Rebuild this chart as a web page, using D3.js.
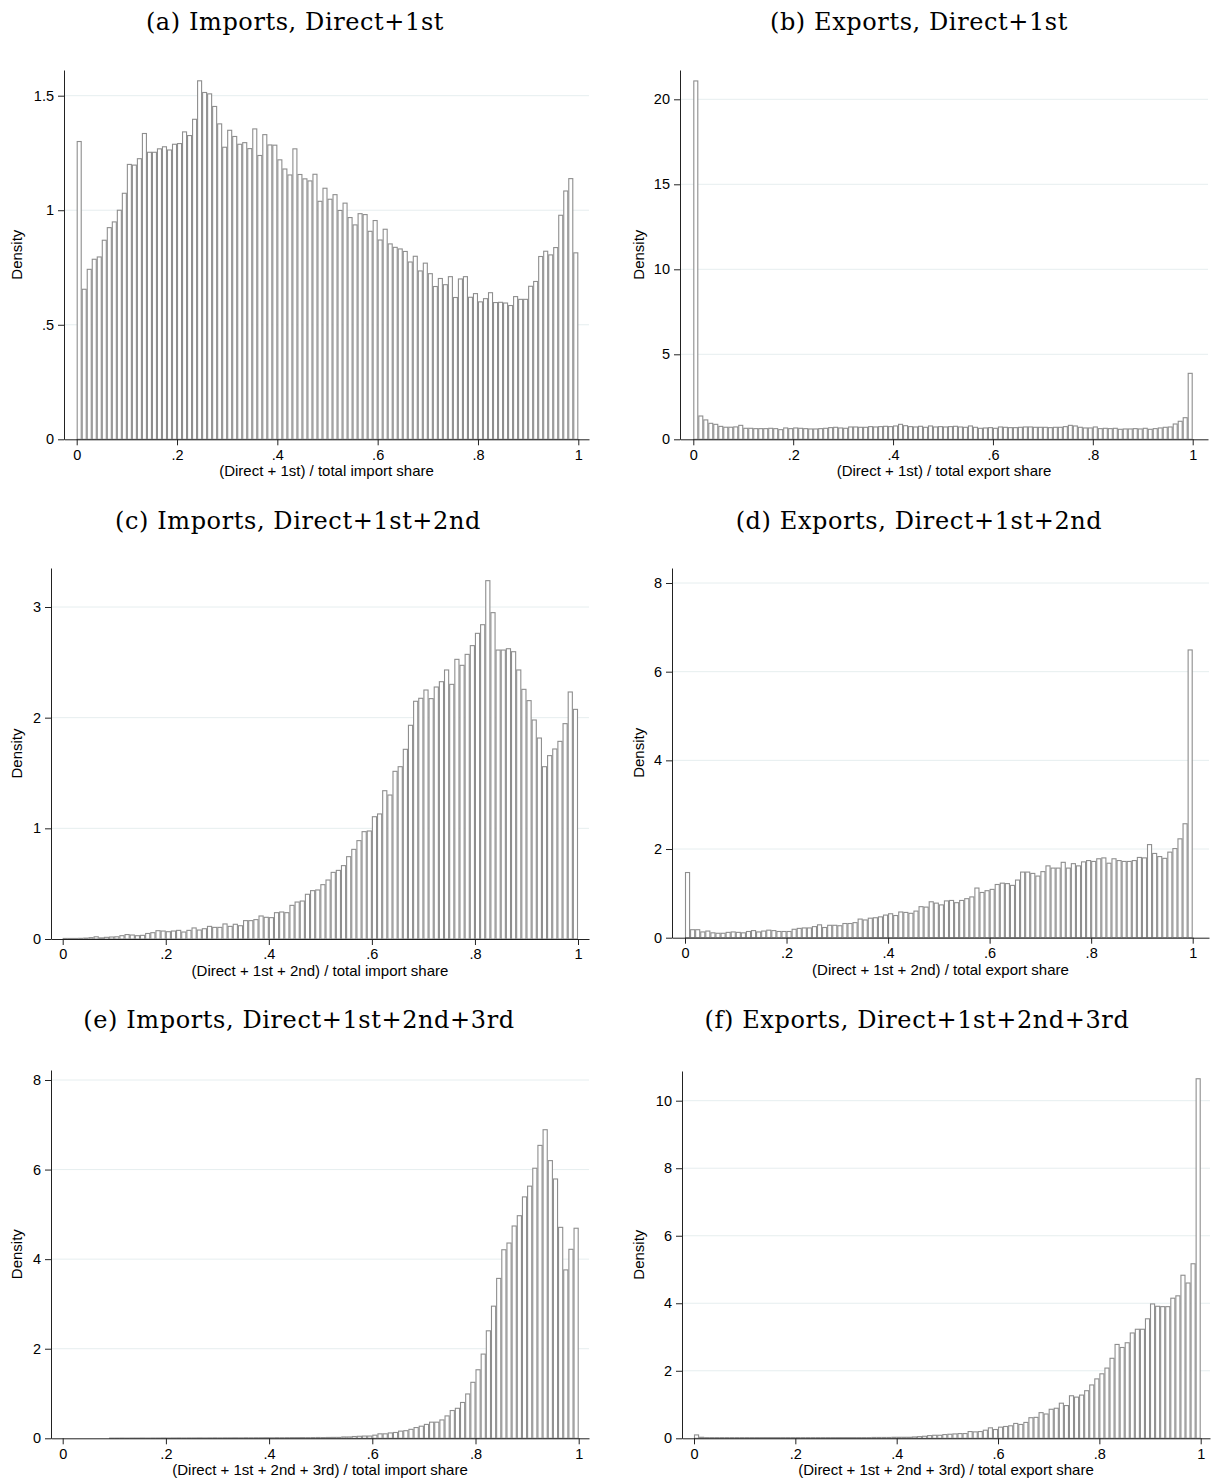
<!DOCTYPE html>
<html>
<head>
<meta charset="utf-8">
<script src="https://cdn.jsdelivr.net/npm/d3@7"></script>
<style>
  body { margin: 0; background: #fff; }
  svg text { fill: #000; }
  .tick text { font-family: "Liberation Sans", Arial, sans-serif; font-size: 14.5px; }
  .title { font-family: "DejaVu Serif", "Liberation Serif", serif; font-size: 24px; letter-spacing: 0.6px; }
  .lab { font-family: "Liberation Sans", Arial, sans-serif; font-size: 15px; }
</style>
</head>
<body>
<svg id="chart" width="1212" height="1483"></svg>
<script>
// bin densities, 100 bins of width .01 on [0,1]
const impD1 = [1.30,0.655,0.742,0.786,0.796,0.869,0.924,0.949,1.0,1.074,
  1.20,1.197,1.225,1.335,1.253,1.253,1.268,1.277,1.263,1.288,
  1.291,1.342,1.326,1.397,1.565,1.514,1.508,1.453,1.377,1.275,
  1.349,1.322,1.288,1.295,1.269,1.355,1.239,1.330,1.285,1.284,
  1.22,1.18,1.154,1.268,1.156,1.137,1.128,1.157,1.039,1.096,
  1.048,1.068,0.999,1.031,0.968,0.936,0.985,0.981,0.908,0.955,
  0.870,0.917,0.853,0.838,0.831,0.820,0.774,0.799,0.735,0.769,
  0.723,0.667,0.702,0.675,0.710,0.619,0.700,0.710,0.620,0.636,
  0.600,0.614,0.640,0.597,0.598,0.595,0.584,0.623,0.611,0.611,
  0.668,0.689,0.798,0.821,0.805,0.837,0.978,1.084,1.138,0.814];

const expD1 = [21.08,1.37,1.14,0.94,0.88,0.76,0.71,0.71,0.73,0.82,
  0.647,0.647,0.627,0.627,0.627,0.647,0.627,0.569,0.667,0.627,
  0.667,0.647,0.627,0.608,0.608,0.627,0.647,0.686,0.706,0.667,
  0.647,0.725,0.725,0.706,0.706,0.745,0.725,0.745,0.765,0.745,
  0.784,0.88,0.80,0.745,0.725,0.765,0.706,0.784,0.725,0.745,
  0.725,0.745,0.765,0.725,0.706,0.784,0.706,0.647,0.667,0.686,
  0.647,0.725,0.706,0.686,0.686,0.706,0.725,0.725,0.706,0.706,
  0.706,0.686,0.706,0.706,0.745,0.82,0.784,0.706,0.667,0.667,
  0.725,0.627,0.647,0.627,0.647,0.588,0.608,0.608,0.627,0.608,
  0.647,0.588,0.627,0.667,0.706,0.725,0.90,1.06,1.27,3.88];

const impD2 = [0.005,0.005,0.005,0.006,0.008,0.012,0.02,0.01,0.015,0.018,
  0.02,0.03,0.04,0.036,0.03,0.033,0.05,0.057,0.075,0.072,
  0.066,0.072,0.078,0.063,0.078,0.10,0.081,0.093,0.114,0.105,
  0.105,0.136,0.114,0.133,0.12,0.166,0.166,0.175,0.208,0.196,
  0.193,0.238,0.244,0.238,0.304,0.334,0.343,0.404,0.437,0.443,
  0.491,0.533,0.602,0.620,0.663,0.744,0.810,0.889,0.970,0.976,
  1.105,1.130,1.340,1.301,1.515,1.557,1.714,1.931,2.148,2.175,
  2.25,2.172,2.277,2.325,2.431,2.301,2.527,2.473,2.572,2.651,
  2.762,2.840,3.238,2.949,2.611,2.611,2.623,2.596,2.431,2.256,
  2.154,1.979,1.816,1.557,1.657,1.717,1.786,1.946,2.232,2.075];

const expD2 = [1.47,0.18,0.18,0.13,0.15,0.11,0.10,0.10,0.12,0.13,
  0.12,0.11,0.14,0.16,0.13,0.15,0.17,0.16,0.14,0.14,
  0.14,0.19,0.21,0.22,0.22,0.25,0.29,0.23,0.28,0.28,
  0.27,0.32,0.32,0.34,0.42,0.40,0.44,0.45,0.47,0.51,
  0.54,0.50,0.58,0.57,0.55,0.60,0.70,0.69,0.81,0.78,
  0.74,0.83,0.84,0.79,0.84,0.88,0.92,1.12,1.02,1.06,
  1.09,1.20,1.23,1.22,1.18,1.30,1.48,1.48,1.45,1.39,
  1.49,1.62,1.57,1.57,1.70,1.57,1.67,1.62,1.71,1.74,
  1.72,1.78,1.80,1.68,1.78,1.74,1.72,1.72,1.74,1.81,
  1.80,2.10,1.90,1.83,1.79,1.93,2.01,2.23,2.57,6.49];

const impD3 = [0,0,0,0,0,0,0,0,0,0.004,
  0.004,0.005,0.004,0.005,0.005,0.006,0.005,0.006,0.006,0.007,
  0.006,0.007,0.008,0.007,0.008,0.008,0.009,0.008,0.009,0.01,
  0.009,0.01,0.01,0.011,0.01,0.012,0.011,0.012,0.012,0.013,
  0.012,0.014,0.013,0.014,0.015,0.015,0.016,0.015,0.017,0.018,
  0.017,0.019,0.02,0.02,0.03,0.03,0.04,0.045,0.05,0.05,
  0.07,0.10,0.10,0.12,0.13,0.16,0.17,0.20,0.24,0.27,
  0.31,0.36,0.36,0.41,0.50,0.62,0.67,0.80,0.99,1.25,
  1.53,1.88,2.40,2.95,3.57,4.21,4.36,4.74,4.97,5.39,
  5.63,6.03,6.54,6.89,6.20,5.79,4.71,3.76,4.22,4.69];

const expD3 = [0.10,0.03,0.02,0.02,0.02,0.02,0.02,0.02,0.02,0.02,
  0.02,0.02,0.02,0.02,0.02,0.02,0.02,0.02,0.02,0.02,
  0.02,0.02,0.02,0.02,0.02,0.02,0.02,0.02,0.02,0.02,
  0.02,0.02,0.02,0.02,0.02,0.025,0.025,0.025,0.025,0.03,
  0.03,0.03,0.03,0.04,0.05,0.06,0.08,0.09,0.09,0.11,
  0.12,0.13,0.14,0.14,0.20,0.19,0.20,0.24,0.31,0.26,
  0.33,0.35,0.37,0.44,0.41,0.47,0.61,0.62,0.76,0.72,
  0.86,0.89,1.04,0.97,1.26,1.22,1.28,1.41,1.58,1.76,
  1.91,2.08,2.37,2.78,2.69,2.83,3.12,3.23,3.23,3.54,
  3.98,3.91,3.90,3.90,4.15,4.22,4.83,4.60,5.17,10.65];

const xTicks = [0, .2, .4, .6, .8, 1];
const yTicksA = [0, .5, 1, 1.5];
const yTicksB = [0, 5, 10, 15, 20];
const yTicksC = [0, 1, 2, 3];
const yTicksD = [0, 2, 4, 6, 8];
const yTicksE = [0, 2, 4, 6, 8];
const yTicksF = [0, 2, 4, 6, 8, 10];

const titles = ["(a) Imports, Direct+1st", "(b) Exports, Direct+1st",
  "(c) Imports, Direct+1st+2nd", "(d) Exports, Direct+1st+2nd",
  "(e) Imports, Direct+1st+2nd+3rd", "(f) Exports, Direct+1st+2nd+3rd"];
const xLabels = ["(Direct + 1st) / total import share", "(Direct + 1st) / total export share",
  "(Direct + 1st + 2nd) / total import share", "(Direct + 1st + 2nd) / total export share",
  "(Direct + 1st + 2nd + 3rd) / total import share", "(Direct + 1st + 2nd + 3rd) / total export share"];

// layout, pixels
const panels = [
  {data: impD1, yt: yTicksA, ax: 64,  x0: 76.7, x1: 578.3,  right: 589,  base: 439.3, tpx: 95.7,   top: 70,   titleX: 295, titleY: 30,   densX: 22},
  {data: expD1, yt: yTicksB, ax: 680, x0: 693.3, x1: 1192.7, right: 1208, base: 439.3, tpx: 99.3,  top: 70,   titleX: 919, titleY: 30,   densX: 644},
  {data: impD2, yt: yTicksC, ax: 51,  x0: 62.7, x1: 578,    right: 589,  base: 939,   tpx: 607,    top: 568,  titleX: 298, titleY: 529,  densX: 22},
  {data: expD2, yt: yTicksD, ax: 672, x0: 685,  x1: 1192.7, right: 1209, base: 937.7, tpx: 583,    top: 568,  titleX: 919, titleY: 529,  densX: 644},
  {data: impD3, yt: yTicksE, ax: 51,  x0: 62.7, x1: 578.7,  right: 589,  base: 1438.3, tpx: 1080,  top: 1070, titleX: 299, titleY: 1028, densX: 22},
  {data: expD3, yt: yTicksF, ax: 682, x0: 694,  x1: 1200.7, right: 1210, base: 1438.3, tpx: 1100.7, top: 1071, titleX: 917, titleY: 1028, densX: 644}
];

const fmt = v => v === 0 ? "0" : String(v).replace(/^0\./, ".");
const svg = d3.select("#chart");

panels.forEach((p, k) => {
  const g = svg.append("g");
  const x = d3.scaleLinear().domain([0, 1]).range([p.x0, p.x1]);
  const yTopTick = p.yt[p.yt.length - 1];
  const y0 = d3.scaleLinear().domain([0, yTopTick]).range([p.base, p.tpx]);
  const y = d3.scaleLinear().domain([0, y0.invert(p.top)]).range([p.base, p.top]);
  const xa = d3.scaleLinear().domain([x.invert(p.ax), x.invert(p.right)]).range([p.ax, p.right]);

  // title
  g.append("text").attr("class", "title")
    .attr("x", p.titleX).attr("y", p.titleY)
    .attr("text-anchor", "middle").text(titles[k]);

  // grid
  g.selectAll("line.grid").data(p.yt.filter(v => v > 0)).join("line")
    .attr("x1", p.ax).attr("x2", p.right)
    .attr("y1", d => y(d)).attr("y2", d => y(d))
    .attr("stroke", "#e6eeef").attr("stroke-width", 1);

  // bars
  const bw = 0.01;
  g.selectAll("rect").data(p.data).join("rect")
    .attr("x", (d, i) => x(i * bw) + 0.5)
    .attr("width", (d, i) => x((i + 1) * bw) - x(i * bw) - 1)
    .attr("y", d => y(d))
    .attr("height", d => Math.max(0, y(0) - y(d)))
    .attr("fill", "#fff").attr("stroke", "#8e8e8e").attr("stroke-width", 1.1);

  // axes
  const yAxis = d3.axisLeft(y).tickValues(p.yt).tickFormat(fmt).tickSize(6).tickSizeOuter(0).tickPadding(4);
  g.append("g").attr("transform", `translate(${p.ax},0)`).call(yAxis)
    .call(s => s.selectAll("line,path").attr("stroke", "#222"));
  const xAxis = d3.axisBottom(xa).tickValues(xTicks).tickFormat(fmt).tickSize(6).tickSizeOuter(0).tickPadding(4);
  g.append("g").attr("transform", `translate(0,${p.base})`).call(xAxis)
    .call(s => s.selectAll("line,path").attr("stroke", "#222"));

  // axis titles
  g.append("text").attr("class", "lab")
    .attr("x", (p.ax + p.right) / 2).attr("y", p.base + 37)
    .attr("text-anchor", "middle").text(xLabels[k]);
  g.append("text").attr("class", "lab")
    .attr("transform", `translate(${p.densX},${(p.top + p.base) / 2}) rotate(-90)`)
    .attr("text-anchor", "middle").text("Density");
});
</script>
</body>
</html>
